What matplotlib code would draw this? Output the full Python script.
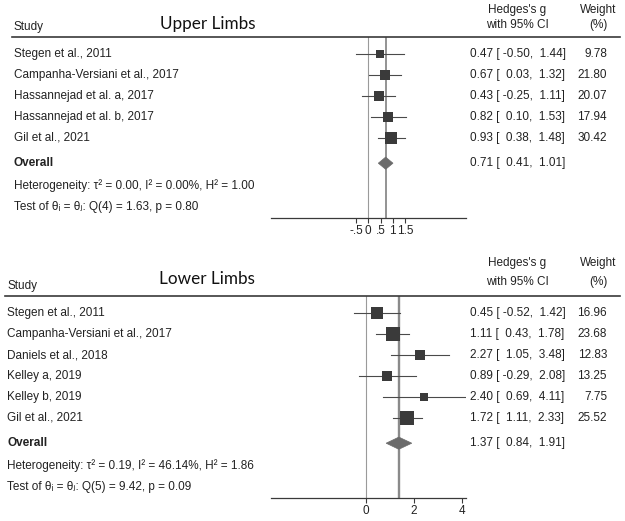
import matplotlib
matplotlib.use("Agg")
import matplotlib.pyplot as plt
from matplotlib.transforms import blended_transform_factory
from matplotlib.patches import Polygon

# ---------------- data ----------------
upper_studies = ["Stegen et al., 2011", "Campanha-Versiani et al., 2017",
                 "Hassannejad et al. a, 2017", "Hassannejad et al. b, 2017",
                 "Gil et al., 2021"]
upper_g = [0.47, 0.67, 0.43, 0.82, 0.93]
upper_lo = [-0.50, 0.03, -0.25, 0.10, 0.38]
upper_hi = [1.44, 1.32, 1.11, 1.53, 1.48]
upper_w = [9.78, 21.80, 20.07, 17.94, 30.42]
upper_overall = [0.71, 0.41, 1.01]
upper_het = "Heterogeneity: τ² = 0.00, I² = 0.00%, H² = 1.00"
upper_test = "Test of θᵢ = θⱼ: Q(4) = 1.63, p = 0.80"
upper_ticks = [-0.5, 0, 0.5, 1, 1.5]
upper_ticklabels = ["-.5", "0", ".5", "1", "1.5"]

lower_studies = ["Stegen et al., 2011", "Campanha-Versiani et al., 2017",
                 "Daniels et al., 2018", "Kelley a, 2019", "Kelley b, 2019",
                 "Gil et al., 2021"]
lower_g = [0.45, 1.11, 2.27, 0.89, 2.40, 1.72]
lower_lo = [-0.52, 0.43, 1.05, -0.29, 0.69, 1.11]
lower_hi = [1.42, 1.78, 3.48, 2.08, 4.11, 2.33]
lower_w = [16.96, 23.68, 12.83, 13.25, 7.75, 25.52]
lower_overall = [1.37, 0.84, 1.91]
lower_het = "Heterogeneity: τ² = 0.19, I² = 46.14%, H² = 1.86"
lower_test = "Test of θᵢ = θⱼ: Q(5) = 9.42, p = 0.09"
lower_ticks = [0, 2, 4]
lower_ticklabels = ["0", "2", "4"]

# ---------------- layout ----------------
W, H = 625, 521
fig = plt.figure(figsize=(6.25, 5.21), dpi=100)
FONT = ["Liberation Sans", "DejaVu Sans"]
FS = 8.45
DARK = "#3a3a3a"


def rect(x0, x1, ytop, ybot):
    return [x0 / W, 1 - ybot / H, (x1 - x0) / W, (ybot - ytop) / H]


def panel(ytop, ybot, xlim, studies, g, lo, hi, w, overall, het, test,
          ticks, ticklabels, title, title_x, title_y, label_x, line_x0,
          ms_k, hdr1_y, hdr2_y, study_y, ov_lw):
    ax = fig.add_axes(rect(271, 466, ytop, ybot))
    n = len(studies)
    rows = list(range(n))
    ov_row = n + 0.2
    het_row = n + 1.29
    test_row = n + 2.29
    ax.set_xlim(*xlim)
    ax.set_ylim(n + 2.81, -0.81)
    for s in ["top", "left", "right"]:
        ax.spines[s].set_visible(False)
    ax.spines["bottom"].set_color(DARK)
    ax.spines["bottom"].set_linewidth(0.9)
    ax.set_yticks([])
    ax.set_xticks(ticks)
    ax.set_xticklabels(ticklabels, fontfamily=FONT, fontsize=FS, color="#222222")
    ax.tick_params(axis="x", direction="out", length=3.5, width=0.8,
                   color=DARK, pad=1.5)
    ax.patch.set_alpha(0)

    ax.axvline(0, color="#9a9a9a", lw=0.8, zorder=1)
    ax.axvline(overall[0], color="#8a8a8a", lw=ov_lw, zorder=1)

    for i in rows:
        ax.plot([lo[i], hi[i]], [i, i], color="#4a4a4a", lw=0.8, zorder=2)
        ax.plot(g[i], i, marker="s", ms=ms_k * w[i] ** 0.5, color=DARK,
                mec=DARK, mew=0, linestyle="none", zorder=3)
    hh = 0.29
    dia = Polygon([(overall[1], ov_row), (overall[0], ov_row - hh),
                   (overall[2], ov_row), (overall[0], ov_row + hh)],
                  closed=True, facecolor="#6b6b6b", edgecolor="#6b6b6b",
                  lw=0.5, zorder=3)
    ax.add_patch(dia)

    tr = blended_transform_factory(fig.transFigure, ax.transData)
    kw = dict(transform=tr, fontfamily=FONT, fontsize=FS, color="#222222",
              va="center", clip_on=False)
    # header line
    ax.plot([line_x0 / W, 620 / W], [-0.81, -0.81], transform=tr,
            color=DARK, lw=1.2, clip_on=False)
    ax.text(label_x / W, study_y, "Study", ha="left", **kw)
    ax.text(517 / W, hdr1_y, "Hedges's g", ha="center", **kw)
    ax.text(517 / W, hdr2_y, "with 95% CI", ha="center", **kw)
    ax.text(598 / W, hdr1_y, "Weight", ha="center", **kw)
    ax.text(598 / W, hdr2_y, "(%)", ha="center", **kw)
    ax.text(title_x / W, title_y, title, transform=tr, fontfamily="Lato",
            fontsize=12.3, color="#111111", va="center", ha="left")

    for i in rows:
        ax.text(label_x / W, i, studies[i], ha="left", **kw)
        ax.text(470 / W, i, f"{g[i]:.2f} [{lo[i]:6.2f}, {hi[i]:5.2f}]",
                ha="left", **kw)
        ax.text(607 / W, i, f"{w[i]:.2f}", ha="right", **kw)
    ax.text(label_x / W, ov_row, "Overall", ha="left", fontweight="bold",
            **kw)
    ax.text(470 / W, ov_row,
            f"{overall[0]:.2f} [{overall[1]:6.2f}, {overall[2]:5.2f}]",
            ha="left", **kw)
    ax.text(label_x / W, het_row, het, ha="left", **kw)
    ax.text(label_x / W, test_row, test, ha="left", **kw)
    return ax


panel(37, 218, (-3.97, 3.99), upper_studies, upper_g, upper_lo, upper_hi,
      upper_w, upper_overall, upper_het, upper_test, upper_ticks,
      upper_ticklabels, "Upper Limbs", 160, -1.45, 14, 12, 1.68,
      -2.1, -1.38, -1.3, 1.3)

panel(296, 498, (-3.96, 4.17), lower_studies, lower_g, lower_lo, lower_hi,
      lower_w, lower_overall, lower_het, lower_test, lower_ticks,
      lower_ticklabels, "Lower Limbs", 159, -1.62, 7, 5, 2.0,
      -2.38, -1.48, -1.3, 1.7)

fig.savefig("out.png", dpi=100, facecolor="white")
